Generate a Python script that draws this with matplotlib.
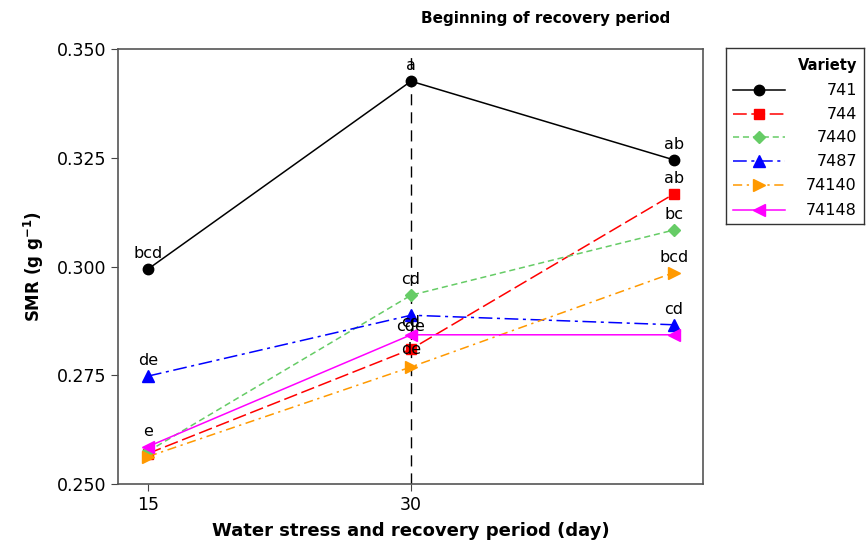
import matplotlib
matplotlib.use("Agg")
import matplotlib.pyplot as plt
from matplotlib.lines import Line2D

days = [15, 30, 45]
varieties = ["741", "744", "7440", "7487", "74140", "74148"]
smr_741 = [0.2994, 0.3426, 0.3245]
smr_744 = [0.2570, 0.2810, 0.3167]
smr_7440 = [0.2575, 0.2934, 0.3084]
smr_7487 = [0.2748, 0.2888, 0.2866]
smr_74140 = [0.2563, 0.2769, 0.2986]
smr_74148 = [0.2586, 0.2843, 0.2843]
letters_741 = ["bcd", "a", "ab"]
letters_744 = ["", "", "ab"]
letters_7440 = ["", "cd", "bc"]
letters_7487 = ["de", "cd", "cd"]
letters_74140 = ["", "de", "bcd"]
letters_74148 = ["e", "cde", ""]
yticks = [0.250, 0.275, 0.300, 0.325, 0.350]
xticks = [15, 30]

series = [smr_741, smr_744, smr_7440, smr_7487, smr_74140, smr_74148]
letters = [letters_741, letters_744, letters_7440, letters_7487, letters_74140, letters_74148]
colors = ["black", "#ff0000", "#66cc66", "#0000ff", "#ff9900", "#ff00ff"]
markers = ["o", "s", "D", "^", ">", "<"]
msizes = [7.5, 7, 6.5, 8, 8.5, 8.5]
lstyles = ["-", (0, (9, 3, 9, 3)), (0, (4, 2.5)), (0, (9, 3, 2, 3)), (0, (6, 3, 1.5, 3)), "-"]
# label vertical offsets (points) for crowded labels: (series index, point index) -> offset
label_offsets = {(3, 1): -5, (5, 1): 6, (4, 1): 12.5}

fig = plt.figure(figsize=(8.67, 5.52), dpi=100)
ax = fig.add_axes([0.1361, 0.1232, 0.6747, 0.788])

ax.plot([30, 30], [0.250, 0.3486], color="black", lw=1, ls=(0, (8, 5)), zorder=1)

for ys, c, m, ms, ls in zip(series, colors, markers, msizes, lstyles):
    ax.plot(days, ys, color=c, marker=m, markersize=ms, lw=1.1, ls=ls, zorder=3)

for si, (ys, labs) in enumerate(zip(series, letters)):
    for pi, (x, y, t) in enumerate(zip(days, ys, labs)):
        if t:
            off = label_offsets.get((si, pi), 11)
            ax.annotate(t, (x, y), xytext=(0, off), textcoords="offset points",
                        ha="center", va="center", fontsize=11.5, zorder=4)

ax.set_xlim(13.29, 46.65)
ax.set_ylim(0.250, 0.350)
ax.set_xticks(xticks)
ax.set_xticklabels([str(t) for t in xticks], fontsize=12.5)
ax.set_yticks(yticks)
ax.set_yticklabels([f"{t:.3f}" for t in yticks], fontsize=12.5)
ax.tick_params(direction="out", length=5, color="#444444")
for s in ax.spines.values():
    s.set_color("#555555")
    s.set_linewidth(1.2)
ax.set_xlabel("Water stress and recovery period (day)", fontsize=13, fontweight="bold", labelpad=6)
ax.set_ylabel("SMR (g g$^{\\mathbf{-1}}$)", fontsize=12, fontweight="bold", labelpad=8)
fig.text(0.629, 0.967, "Beginning of recovery period", ha="center", va="center",
         fontsize=11, fontweight="bold")

# legend
lax = fig.add_axes([0.8374, 0.5942, 0.1591, 0.3188])
lax.set_xlim(0, 138)
lax.set_ylim(176, 0)
lax.set_xticks([])
lax.set_yticks([])
for s in lax.spines.values():
    s.set_color("#333333")
    s.set_linewidth(1.0)
lax.text(131, 17, "Variety", ha="right", va="center", fontsize=10.5, fontweight="bold")
rows = [42, 66, 89, 113, 137, 162]
for yy, name, c, m, ms, ls in zip(rows, varieties, colors, markers, msizes, lstyles):
    lax.add_line(Line2D([7, 59], [yy, yy], color=c, lw=1.1, ls=ls))
    lax.add_line(Line2D([33], [yy], color=c, marker=m, markersize=ms))
    lax.text(131, yy, name, ha="right", va="center", fontsize=11.5)

fig.savefig("out.png", dpi=100)
